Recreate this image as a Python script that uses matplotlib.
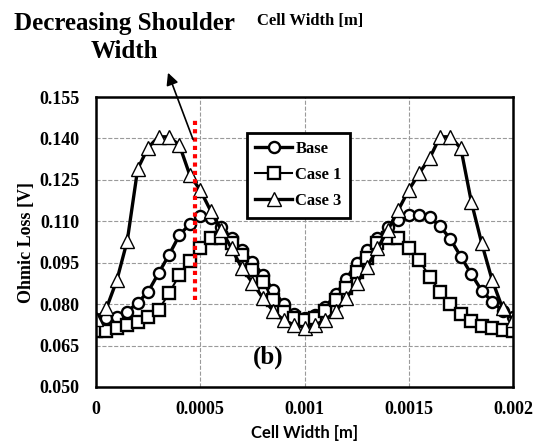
import numpy as np
import matplotlib
matplotlib.use('Agg')
import matplotlib.pyplot as plt

plt.rcParams['font.family'] = ['Liberation Serif', 'DejaVu Serif']
plt.rcParams['font.weight'] = 'bold'

# cell width positions [m]
x = np.arange(41) * 0.00005

base = [0.0745, 0.0749, 0.0754, 0.0773, 0.0805, 0.0845, 0.0912, 0.0978, 0.1050, 0.1090,
        0.1119, 0.1111, 0.1080, 0.1038, 0.0996, 0.0954, 0.0905, 0.0850, 0.0800, 0.0765,
        0.0750, 0.0760, 0.0790, 0.0835, 0.0890, 0.0950, 0.0996, 0.1038, 0.1078, 0.1105,
        0.1123, 0.1123, 0.1114, 0.1083, 0.1035, 0.0972, 0.0909, 0.0849, 0.0809, 0.0776,
        0.0754]

case1 = [0.0704, 0.0704, 0.0712, 0.0724, 0.0736, 0.0752, 0.0778, 0.0840, 0.0905, 0.0955,
         0.1002, 0.1038, 0.1038, 0.1020, 0.0978, 0.0924, 0.0881, 0.0815, 0.0773, 0.0749,
         0.0743, 0.0750, 0.0775, 0.0815, 0.0857, 0.0917, 0.0966, 0.1020, 0.1038, 0.1038,
         0.1002, 0.0960, 0.0899, 0.0845, 0.0800, 0.0765, 0.0740, 0.0722, 0.0713, 0.0706,
         0.0704]

case3 = [0.0745, 0.0785, 0.0887, 0.1030, 0.1290, 0.1367, 0.1406, 0.1406, 0.1376, 0.1267,
         0.1213, 0.1138, 0.1070, 0.1002, 0.0930, 0.0878, 0.0822, 0.0775, 0.0742, 0.0725,
         0.0715, 0.0725, 0.0742, 0.0775, 0.0822, 0.0875, 0.0935, 0.1002, 0.1068, 0.1141,
         0.1213, 0.1274, 0.1328, 0.1406, 0.1406, 0.1364, 0.1171, 0.1020, 0.0887, 0.0785,
         0.0743]

yticks = [0.050, 0.065, 0.080, 0.095, 0.110, 0.125, 0.140, 0.155]
xticks = [0, 0.0005, 0.001, 0.0015, 0.002]
xticklabels = ['0', '0.0005', '0.001', '0.0015', '0.002']

fig = plt.figure(figsize=(5.37, 4.44), dpi=100)
ax = fig.add_axes([0.1788, 0.1284, 0.7765, 0.6531])

ax.plot(x, base, '-o', color='black', lw=2.4, ms=8, mfc='white', mec='black', mew=1.7, label='Base')
ax.plot(x, case1, '-s', color='black', lw=1.5, ms=8, mfc='white', mec='black', mew=1.7, label='Case 1')
ax.plot(x, case3, '-^', color='black', lw=2.4, ms=9.5, mfc='white', mec='black', mew=1.0, label='Case 3')

# shoulder marker
ax.plot([0.000475, 0.000475], [0.0815, 0.1478], color='red', lw=3, ls=(0, (1, 1)))

ax.set_xlim(0, 0.002)
ax.set_ylim(0.050, 0.155)
ax.set_xticks(xticks)
ax.set_xticklabels(xticklabels)
ax.set_yticks(yticks)
ax.set_yticklabels(['%.3f' % v for v in yticks])
ax.tick_params(length=0, labelsize=13)
ax.tick_params(axis='y', pad=12)
ax.tick_params(axis='x', pad=10)
ax.grid(True, ls='--', color='#9a9a9a', lw=0.8)
ax.set_axisbelow(True)
for s in ax.spines.values():
    s.set_linewidth(1.8)
    s.set_color('black')

ax.set_ylabel('Ohmic Loss [V]', fontsize=13, fontweight='bold', labelpad=3)
ax.set_xlabel('Cell Width [m]', fontsize=12, family='Lato', fontweight='bold', labelpad=5)

leg = ax.legend(loc='upper left', bbox_to_anchor=(0.362, 0.876), borderaxespad=0,
                fancybox=False, edgecolor='black', fontsize=12, handlelength=2.2,
                labelspacing=0.6, handletextpad=0.2, borderpad=0.5)
leg.get_frame().set_linewidth(2)
leg.get_frame().set_alpha(1)

ax.text(0.000825, 0.0609, '(b)', fontsize=18, ha='center', va='center')

fig.text(0.577, 0.953, 'Cell Width [m]', fontsize=12, ha='center', va='center')
fig.text(0.232, 0.915, 'Decreasing Shoulder\nWidth', fontsize=18, ha='center', va='center',
         linespacing=1.25)

ax.annotate('', xy=(0.311, 0.842), xycoords='figure fraction',
            xytext=(0.00047, 0.1387), textcoords='data',
            arrowprops=dict(arrowstyle='-|>', color='black', lw=1.2, mutation_scale=18),
            annotation_clip=False)

fig.savefig('out.png', dpi=100)
